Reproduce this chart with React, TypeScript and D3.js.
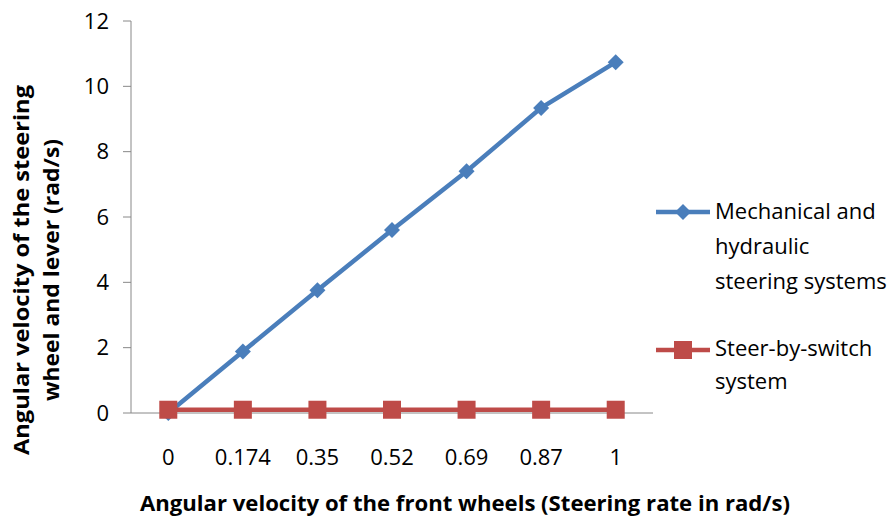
import React from "react";
import * as d3 from "d3";

const categories = ["0", "0.174", "0.35", "0.52", "0.69", "0.87", "1"];
const mechanical = [0, 1.88, 3.76, 5.6, 7.4, 9.34, 10.74];
const steerBySwitch = [0.1, 0.1, 0.1, 0.1, 0.1, 0.1, 0.1];
const yTicks = [0, 2, 4, 6, 8, 10, 12];
const seriesNames = [["Mechanical and", "hydraulic", "steering systems"], ["Steer-by-switch", "system"]];
const colors = ["#4a7ebb", "#be4b48"];

const W = 896, H = 527;
const left = 131, right = 653, top = 21, bottom = 413;
const FONT = "'Open Sans', sans-serif";

export default function App() {
  const x = d3.scaleBand().domain(categories).range([left, right]);
  const y = d3.scaleLinear().domain([0, 12]).range([bottom, top]);
  const cx = (c: string) => (x(c) as number) + x.bandwidth() / 2;
  const line = d3.line<number>().x((_, i) => cx(categories[i])).y((v) => y(v));
  const axisColor = "#888888";
  return (
    <svg width={W} height={H} style={{ position: "absolute", left: 0, top: 0, background: "#fff" }} fontFamily={FONT}>
      {/* y axis */}
      <line x1={left} x2={left} y1={top} y2={bottom} stroke={axisColor} strokeWidth={1} />
      {yTicks.map((t) => (
        <g key={t}>
          <line x1={left - 8} x2={left} y1={y(t)} y2={y(t)} stroke={axisColor} />
          <text x={left - 22} y={y(t)} dy="0.35em" textAnchor="end" fontSize={22} fill="#000">{t}</text>
        </g>
      ))}
      {/* x axis */}
      <line x1={left} x2={right} y1={bottom} y2={bottom} stroke={axisColor} />
      {categories.map((c) => (
        <text key={c} x={cx(c)} y={457} dy="0.35em" textAnchor="middle" fontSize={22} fill="#000">{c}</text>
      ))}
      {/* series */}
      <path d={line(mechanical) || ""} fill="none" stroke={colors[0]} strokeWidth={4.5} />
      {mechanical.map((v, i) => {
        const px = cx(categories[i]), py = y(v), s = 8;
        return <path key={i} d={`M${px},${py - s}L${px + s},${py}L${px},${py + s}L${px - s},${py}Z`} fill={colors[0]} />;
      })}
      <path d={line(steerBySwitch) || ""} fill="none" stroke={colors[1]} strokeWidth={4.5} />
      {steerBySwitch.map((v, i) => {
        const px = cx(categories[i]), py = y(v), s = 9;
        return <rect key={i} x={px - s} y={py - s} width={2 * s} height={2 * s} fill={colors[1]} />;
      })}
      {/* axis titles */}
      <text x={465} y={511} textAnchor="middle" fontSize={21} fontWeight="bold" textLength={650} lengthAdjust="spacingAndGlyphs">
        Angular velocity of the front wheels (Steering rate in rad/s)
      </text>
      <g transform="translate(22,270) rotate(-90)">
        <text x={0} y={0} dy="0.35em" textAnchor="middle" fontSize={21} fontWeight="bold" textLength={370} lengthAdjust="spacingAndGlyphs">
          Angular velocity of the steering
        </text>
        <text x={0} y={30} dy="0.35em" textAnchor="middle" fontSize={21} fontWeight="bold" textLength={262} lengthAdjust="spacingAndGlyphs">
          wheel and lever (rad/s)
        </text>
      </g>
      {/* legend */}
      <line x1={656} x2={710} y1={212} y2={212} stroke={colors[0]} strokeWidth={4.5} />
      <path d={`M683,204L691,212L683,220L675,212Z`} fill={colors[0]} />
      {seriesNames[0].map((t, i) => (
        <text key={t} x={715} y={211 + i * 35} dy="0.35em" fontSize={22} fill="#000">{t}</text>
      ))}
      <line x1={656} x2={710} y1={350} y2={350} stroke={colors[1]} strokeWidth={4.5} />
      <rect x={674} y={341} width={18} height={18} fill={colors[1]} />
      {seriesNames[1].map((t, i) => (
        <text key={t} x={715} y={348 + i * 33} dy="0.35em" fontSize={22} fill="#000">{t}</text>
      ))}
    </svg>
  );
}
